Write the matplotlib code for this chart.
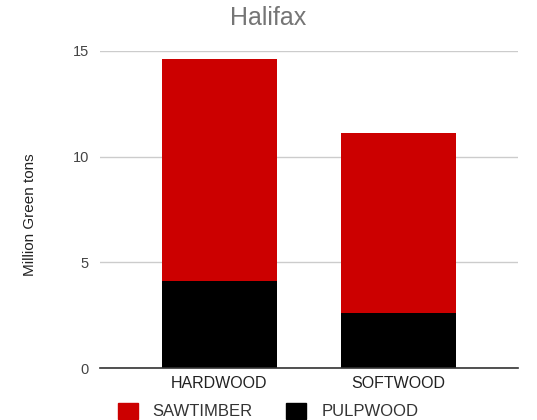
import matplotlib
matplotlib.use("Agg")
import matplotlib.pyplot as plt
from matplotlib.patches import Patch

categories = ["HARDWOOD", "SOFTWOOD"]
pulpwood = [4.12, 2.62]
sawtimber = [10.48, 8.52]
yticks = [0, 5, 10, 15]

plt.rcParams['font.family'] = ['Liberation Sans', 'DejaVu Sans']

fig = plt.figure(figsize=(5.37, 4.2), dpi=100)
ax = fig.add_axes([100/537, 1-368/420, 418/537, 317/420])

x = list(range(len(categories)))
w = 0.644
ax.bar(x, pulpwood, width=w, color="#000000", label="PULPWOOD", zorder=3)
ax.bar(x, sawtimber, width=w, bottom=pulpwood, color="#cc0000", label="SAWTIMBER", zorder=3)

ax.set_xlim(-0.667, 1.667)
ax.set_ylim(0, 15)
ax.set_yticks(yticks)
ax.set_yticklabels([str(t) for t in yticks], fontsize=10.5, color="#444444")
ax.set_xticks(x)
ax.set_xticklabels(categories, fontsize=11.5, color="#222222")
ax.tick_params(axis='x', length=0, pad=6)
ax.tick_params(axis='y', length=0, pad=8)
ax.grid(axis='y', color="#cccccc", linewidth=1, zorder=0)
for s in ["top", "right", "left"]:
    ax.spines[s].set_visible(False)
ax.spines["bottom"].set_color("#333333")
ax.spines["bottom"].set_linewidth(1.2)
ax.spines["bottom"].set_zorder(4)

fig.text(268/537, 1-18/420, "Halifax", ha="center", va="center", fontsize=18, color="#757575")
fig.text(30/537, 1-215/420, "Million Green tons", rotation=90, ha="center", va="center",
         fontsize=11, color="#222222")

handles = [Patch(color="#cc0000", label="SAWTIMBER"), Patch(color="#000000", label="PULPWOOD")]
fig.legend(handles=handles, loc="center", bbox_to_anchor=(268/537, 1-411/420), ncol=2, frameon=False,
           fontsize=12, handlelength=1.2, handleheight=1.1, handletextpad=0.9, columnspacing=2.0,
           labelcolor="#333333")

fig.savefig("out.png", dpi=100)
